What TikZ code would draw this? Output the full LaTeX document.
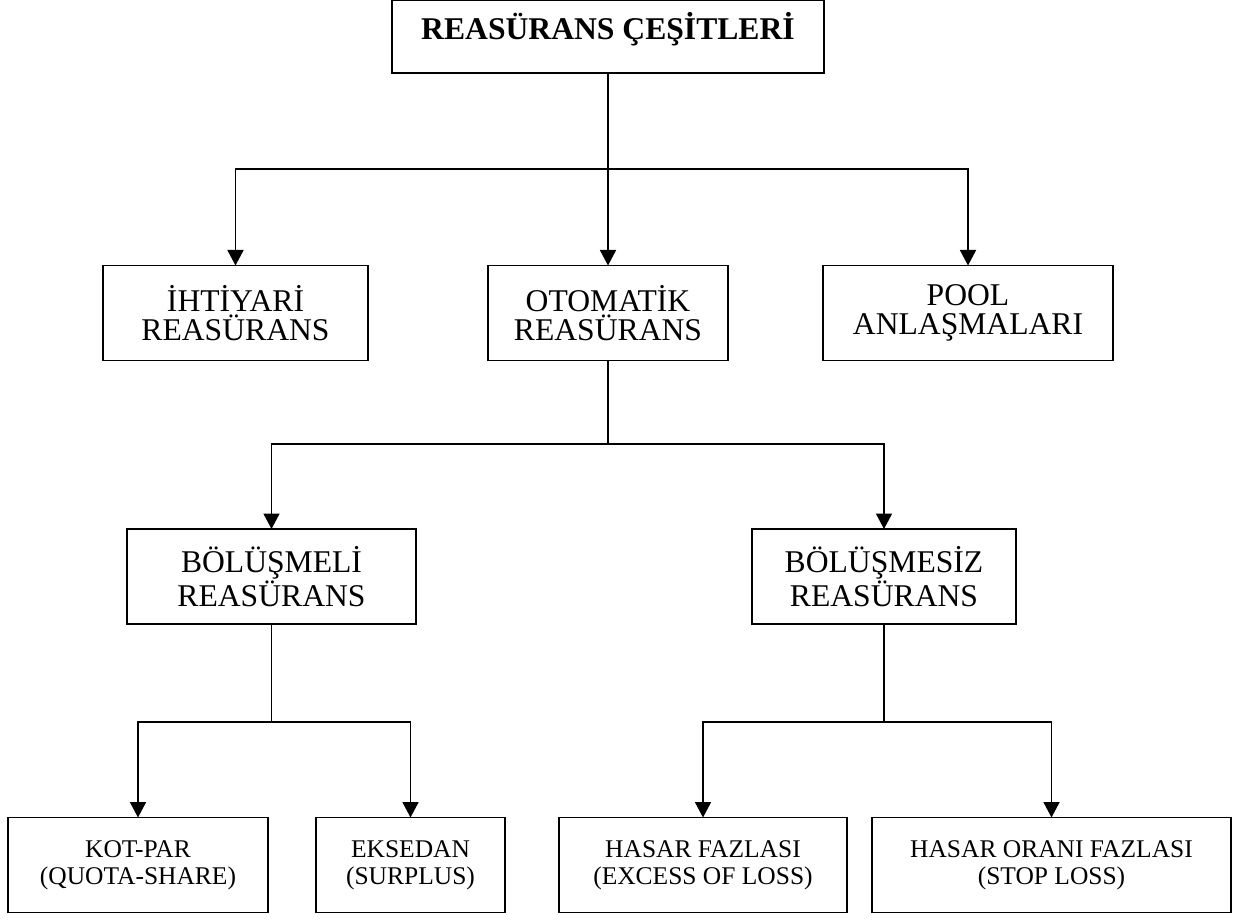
\documentclass[tikz,border=0pt]{standalone}
\usepackage{fontspec}
\setmainfont{Liberation Serif}
\usepackage{tikz}
\usetikzlibrary{arrows.meta}
\tikzset{
    box/.style={
        draw, rectangle, line width=1pt, % boxes of the tree
        inner sep=0pt, outer sep=0pt, align=center,
        minimum height=1.9cm,
        font=\fontsize{18}{16.5}\selectfont
    },
    leafbox/.style={
        box, font=\fontsize{14.5}{15.4}\selectfont
    },
    down arrow/.style={
        line width=1pt,
        -{Triangle[length=0.31cm,width=0.32cm]}
    }
}

\begin{document}
\begin{tikzpicture}
\useasboundingbox (0,0) rectangle (24.72,-18.4);
\node[box, minimum width=8.64cm, minimum height=1.46cm, text height=0.45cm, text depth=0.31cm, font=\fontsize{18}{20}\selectfont\bfseries] (T) at (12.16,-0.73) {REASÜRANS ÇEŞİTLERİ};
\node[box, minimum width=5.3cm] (I) at (4.71,-6.26) {İHTİYARİ\\REASÜRANS};
\node[box, minimum width=4.8cm] (O) at (12.16,-6.26) {OTOMATİK\\REASÜRANS};
\node[box, minimum width=5.8cm] (P) at (19.36,-6.26) {POOL\\ANLAŞMALARI};
\node[box, minimum width=5.78cm] (BL) at (5.43,-11.53) {BÖLÜŞMELİ\\REASÜRANS};
\node[box, minimum width=5.28cm] (BZ) at (17.68,-11.53) {BÖLÜŞMESİZ\\REASÜRANS};
\node[leafbox, minimum width=5.2cm] (K) at (2.76,-17.3) {KOT-PAR\\(QUOTA-SHARE)};
\node[leafbox, minimum width=3.78cm] (E) at (8.21,-17.3) {EKSEDAN\\(SURPLUS)};
\node[leafbox, minimum width=5.76cm] (H) at (14.06,-17.3) {HASAR FAZLASI\\(EXCESS OF LOSS)};
\node[leafbox, minimum width=7.18cm] (S) at (21.03,-17.3) {HASAR ORANI FAZLASI\\(STOP LOSS)};
% branching points
\coordinate (t1) at (12.16,-3.38);
\coordinate (t2) at (12.16,-8.88);
\coordinate (t3) at (5.43,-14.44);
\coordinate (t4) at (17.68,-14.44);
\draw[line width=1pt] (T.south) -- (t1);
\draw[down arrow] (t1) -| (I.north);
\draw[down arrow] (t1) -- (O.north);
\draw[down arrow] (t1) -| (P.north);
\draw[line width=1pt] (O.south) -- (t2);
\draw[down arrow] (t2) -| (BL.north);
\draw[down arrow] (t2) -| (BZ.north);
\draw[line width=1pt] (BL.south) -- (t3);
\draw[down arrow] (t3) -| (K.north);
\draw[down arrow] (t3) -| (E.north);
\draw[line width=1pt] (BZ.south) -- (t4);
\draw[down arrow] (t4) -| (H.north);
\draw[down arrow] (t4) -| (S.north);
\end{tikzpicture}
\end{document}
